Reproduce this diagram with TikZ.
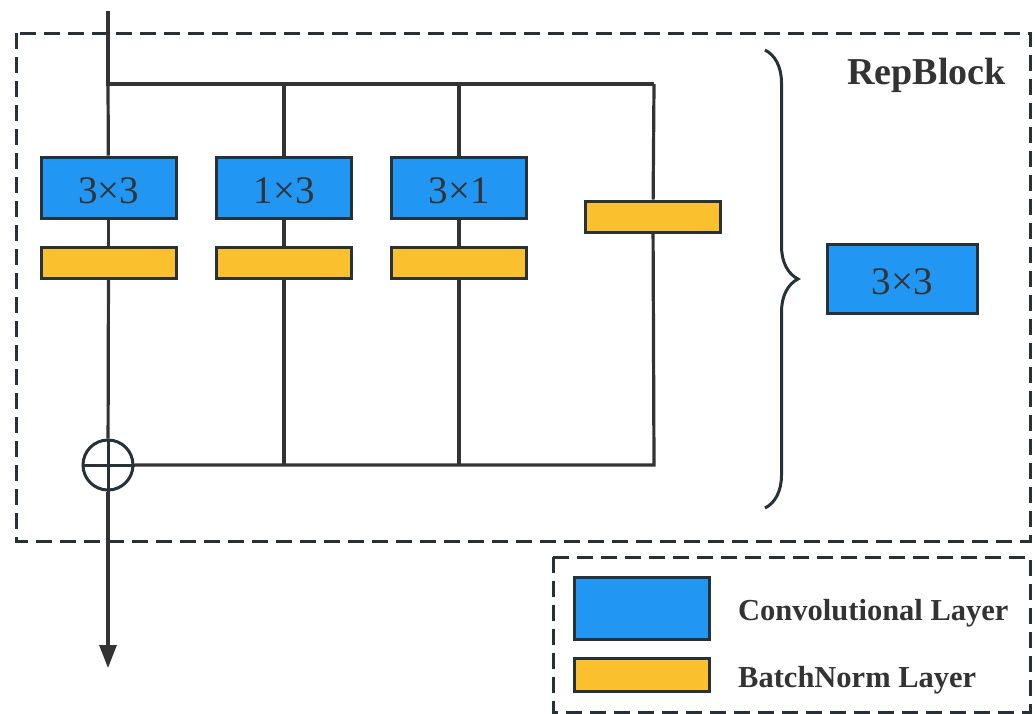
\documentclass[tikz,border=0pt]{standalone}
\usepackage{fontspec}
\setmainfont{Liberation Serif}
\usetikzlibrary{arrows.meta,decorations.pathreplacing}
\definecolor{convblue}{HTML}{2196F3}
\definecolor{bnyellow}{HTML}{FBC02D}
\definecolor{edge}{HTML}{263238}
\definecolor{wire}{HTML}{333333}
\tikzset{
  conv/.style={draw=edge, line width=3pt, fill=convblue, minimum width=135pt,
    minimum height=61pt, inner sep=0pt, text=wire, text height=32pt, text depth=0pt,
    font=\fontsize{39}{42}\selectfont},
  bn/.style={draw=edge, line width=3pt, fill=bnyellow, minimum width=135pt,
    minimum height=31pt, inner sep=0pt},
  wireline/.style={draw=wire, line width=3.2pt},
  dashbox/.style={draw=edge, line width=3pt, dash pattern=on 16pt off 8pt},
  sumnode/.style={circle, draw=edge, line width=3pt, minimum size=50pt, inner sep=0pt},
  boldlabel/.style={text=wire, inner sep=0pt, font=\bfseries\fontsize{30.5}{34}\selectfont}
}
\begin{document}
\begin{tikzpicture}[x=1pt,y=-1pt]
\useasboundingbox (0,0) rectangle (1035,713);

% frames
\draw[dashbox] (16,33) rectangle (1030,541);
\draw[dashbox] (553,557) rectangle (1030,712);

% branch points
\coordinate (in) at (108,11);
\coordinate (split) at (108,84);
\coordinate (t2) at (284,84);
\coordinate (t3) at (459,84);
\coordinate (t4) at (654,84);
\coordinate (b2) at (284,465);
\coordinate (b3) at (459,465);
\coordinate (b4) at (654,465);
\coordinate (out) at (108,668);

% layers
\node[conv] (c1) at (108.5,187.5) {3×3};
\node[conv] (c2) at (284,187.5) {1×3};
\node[conv] (c3) at (459,187.5) {3×1};
\node[bn] (n1) at (108.5,262.5) {};
\node[bn] (n2) at (284,262.5) {};
\node[bn] (n3) at (459,262.5) {};
\node[bn] (n4) at (653,216.5) {};
\node[sumnode] (sum) at (108,465) {};

% wiring
\draw[wireline] (in) -- (split) -- (t4);
\draw[wireline] (split) -- (c1);
\draw[wireline] (t2) -- (c2);
\draw[wireline] (t3) -- (c3);
\draw[wireline] (t4) -- (n4);
\draw[wireline] (c1) -- (n1);
\draw[wireline] (c2) -- (n2);
\draw[wireline] (c3) -- (n3);
\draw[wireline] (n1) -- (sum);
\draw[wireline] (n2) -- (b2);
\draw[wireline] (n3) -- (b3);
\draw[wireline] (n4) -- (b4) -- (sum.east);
\draw[draw=edge, line width=3pt] (sum.north) -- (sum.south) (sum.west) -- (sum.east);
\draw[wireline, -{Triangle[width=17pt,length=23pt]}] (sum) -- (out);

% title
\node[anchor=base east, text=wire, inner sep=0pt, font=\bfseries\fontsize{38}{40}\selectfont] (title) at (1006,84) {RepBlock};

% brace and fused layer
\draw[draw=edge, line width=3pt, decorate, decoration={brace, amplitude=33pt}] (765,50) -- (765,508);
\node[conv, minimum width=150pt, minimum height=69pt] (fused) at (902,278.5) {3×3};

% legend
\node[conv, minimum height=62pt] (lc) at (641.5,608) {};
\node[bn, minimum height=33pt] (lb) at (641.5,674.5) {};
\node[boldlabel, anchor=base west] (lct) at (738,620) {Convolutional Layer};
\node[boldlabel, anchor=base west] (lbt) at (738,687) {BatchNorm Layer};
\end{tikzpicture}
\end{document}
